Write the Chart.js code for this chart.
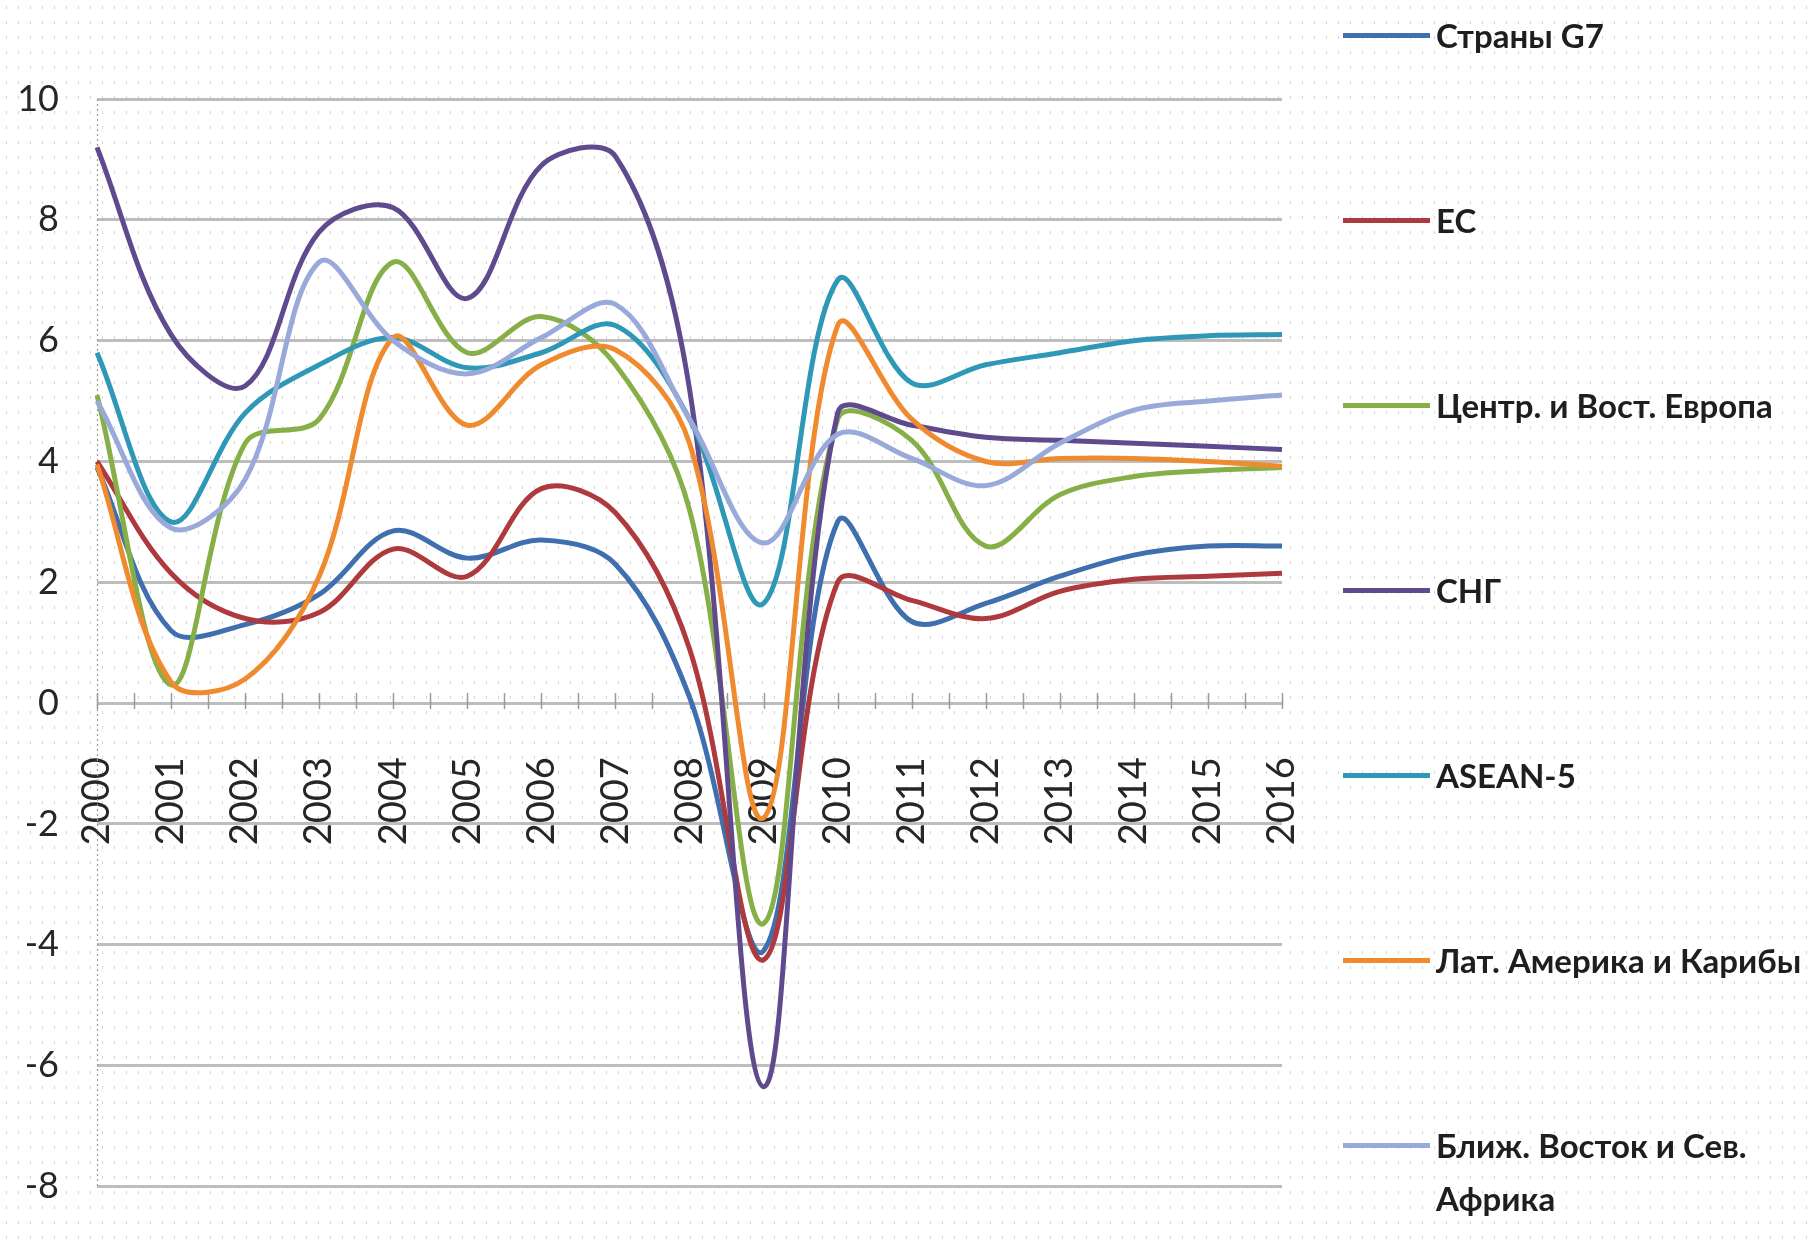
<!DOCTYPE html>
<html><head><meta charset="utf-8">
<script src="https://cdn.jsdelivr.net/npm/chart.js@4"></script>
<style>
html,body{margin:0;padding:0;background:#fff;}
#wrap{position:relative;width:1808px;height:1246px;overflow:hidden;}
#c{position:absolute;left:0;top:0;}
#legend{position:absolute;left:0;top:0;width:1808px;height:1246px;pointer-events:none;font-family:Lato,'Open Sans',sans-serif;}
.item{position:absolute;left:1343px;display:flex;align-items:flex-start;}
.swatch{width:87px;height:5px;margin-top:24px;flex:none;}
.txt{margin-left:6px;font-size:33px;font-weight:700;color:#1e1e1e;line-height:53px;width:372px;}
</style>
</head><body>
<div id="wrap"><canvas id="c" width="1808" height="1246"></canvas><div id="legend"></div></div>
<script>
const years = ['2000','2001','2002','2003','2004','2005','2006','2007','2008','2009','2010','2011','2012','2013','2014','2015','2016'];
const seriesNames = ['Страны G7','ЕС','Центр. и Вост. Европа','СНГ','ASEAN-5','Лат. Америка и Карибы','Ближ. Восток и Сев. Африка'];
const seriesColors = ['#3F6FAE','#AE3A3D','#86AF48','#604A8E','#2F98B6','#F08A2F','#99A9D9'];
const g7    = [3.9, 1.2, 1.3, 1.8, 2.85, 2.4, 2.7, 2.3, 0.1, -4.1, 3.0, 1.35, 1.65, 2.1, 2.45, 2.6, 2.6];
const eu    = [4.0, 2.15, 1.4, 1.5, 2.55, 2.1, 3.55, 3.15, 0.9, -4.25, 2.0, 1.7, 1.4, 1.85, 2.05, 2.1, 2.15];
const cee   = [5.1, 0.3, 4.3, 4.7, 7.3, 5.8, 6.4, 5.6, 3.2, -3.65, 4.7, 4.35, 2.6, 3.45, 3.75, 3.85, 3.9];
const cis   = [9.2, 6.1, 5.25, 7.8, 8.2, 6.7, 8.9, 9.05, 5.2, -6.35, 4.8, 4.6, 4.4, 4.35, 4.3, 4.25, 4.2];
const asean = [5.8, 3.0, 4.8, 5.6, 6.05, 5.55, 5.8, 6.25, 4.7, 1.65, 7.0, 5.3, 5.6, 5.8, 6.0, 6.08, 6.1];
const latam = [3.95, 0.35, 0.4, 2.1, 6.05, 4.6, 5.6, 5.85, 4.3, -1.9, 6.25, 4.7, 4.0, 4.05, 4.05, 4.0, 3.92];
const mena  = [5.0, 2.9, 3.7, 7.3, 6.0, 5.45, 6.05, 6.6, 4.7, 2.65, 4.45, 4.05, 3.6, 4.3, 4.85, 5.0, 5.1];
const yMin = -8, yMax = 10, yStep = 2;

const seriesData = [g7, eu, cee, cis, asean, latam, mena];

const bgPlugin = {
  id: 'bg',
  beforeDraw(chart) {
    const c = chart.ctx;
    const t = document.createElement('canvas');
    t.width = 12; t.height = 15;
    const tc = t.getContext('2d');
    tc.fillStyle = 'rgba(0,0,0,0.17)';
    tc.fillRect(6, 6, 1, 3);
    const p = c.createPattern(t, 'repeat');
    c.save();
    c.fillStyle = '#fff';
    c.fillRect(0, 0, chart.width, chart.height);
    c.fillStyle = p;
    c.fillRect(0, 0, chart.width, chart.height);
    c.restore();
  },
  beforeDatasetsDraw(chart) {
    const c = chart.ctx, a = chart.chartArea;
    const xs = chart.scales.x, ys = chart.scales.y;
    c.save();
    c.strokeStyle = '#9a9a9a';
    c.lineWidth = 1.2;
    c.setLineDash([2, 3]);
    c.beginPath();
    c.moveTo(a.left + 0.5, a.top);
    c.lineTo(a.left + 0.5, a.bottom);
    c.stroke();
    c.setLineDash([]);
    c.lineWidth = 1.5;
    const y0 = ys.getPixelForValue(0);
    c.beginPath();
    for (let k = 0; k <= (years.length - 1) * 2; k++) {
      const px = Math.round(xs.getPixelForValue(k / 2)) + 0.5;
      c.moveTo(px, y0 - 10);
      c.lineTo(px, y0 + 6);
    }
    c.stroke();
    c.restore();
  }
};

new Chart(document.getElementById('c').getContext('2d'), {
  type: 'line',
  data: {
    labels: years,
    datasets: seriesData.map((d, i) => ({
      label: seriesNames[i],
      data: d,
      borderColor: seriesColors[i],
      backgroundColor: seriesColors[i],
      borderWidth: 5,
      pointRadius: 0,
      tension: 0.35,
      fill: false,
      order: seriesData.length - i
    }))
  },
  options: {
    responsive: false,
    animation: false,
    devicePixelRatio: 1,
    layout: { padding: { left: 0, right: 526, top: 99, bottom: 18 } },
    plugins: { legend: { display: false }, tooltip: { enabled: false } },
    scales: {
      x: {
        type: 'category',
        offset: false,
        position: { y: 0 },
        grid: { display: false },
        border: { display: false },
        ticks: { minRotation: 90, maxRotation: 90, autoSkip: false, padding: 46, font: { family: 'Lato', size: 38 }, color: '#262626' }
      },
      y: {
        min: yMin, max: yMax,
        ticks: { stepSize: yStep, padding: 38, font: { family: 'Lato', size: 36 }, color: '#262626' },
        grid: { color: '#bdbdbd', lineWidth: 3, drawTicks: false },
        border: { display: false },
        afterFit(s) { s.width = 97; }
      }
    }
  },
  plugins: [bgPlugin]
});

const leg = document.getElementById('legend');
seriesNames.forEach((name, i) => {
  const it = document.createElement('div');
  it.className = 'item';
  it.style.top = (35 + i * 185 - 26.5) + 'px';
  const sw = document.createElement('div');
  sw.className = 'swatch';
  sw.style.background = seriesColors[i];
  const tx = document.createElement('div');
  tx.className = 'txt';
  tx.textContent = name;
  it.appendChild(sw); it.appendChild(tx);
  leg.appendChild(it);
});
</script>
</body></html>
